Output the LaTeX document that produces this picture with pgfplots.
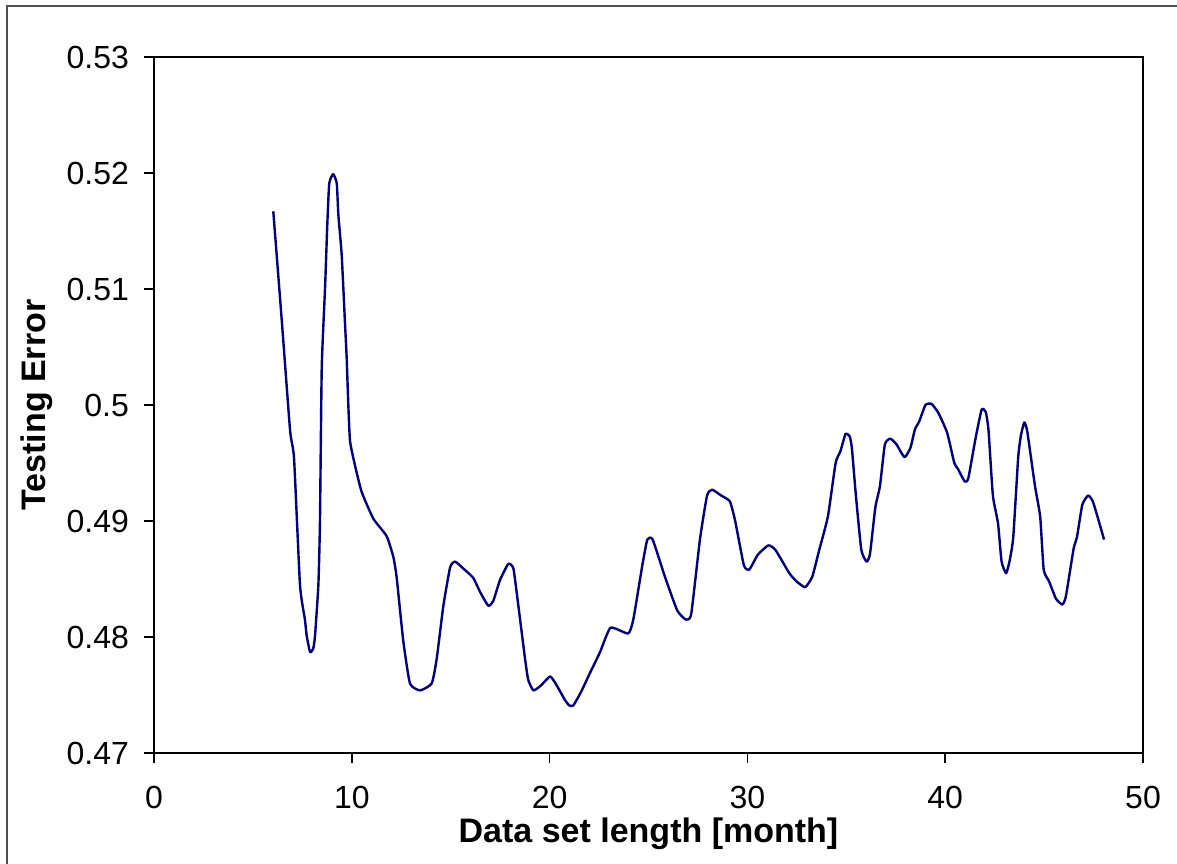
\documentclass[border=0pt]{standalone}
\usepackage{fontspec}
\setmainfont{Liberation Sans}
\usepackage{pgfplots}
\pgfplotsset{compat=1.18}
\definecolor{linenavy}{RGB}{0,0,128}
\definecolor{framegray}{RGB}{80,80,80}

\begin{document}
\begin{tikzpicture}
  % page = 1177x863 px at 0.5pt per px
  \path[use as bounding box] (0pt,0pt) rectangle (588.5pt,-431.5pt);
  \draw[framegray, line width=1pt] (3.5pt,-440pt) -- (3.5pt,-3pt) -- (600pt,-3pt);
  \begin{axis}[
    at={(77pt,-376.5pt)}, anchor=south west,
    scale only axis,
    width=494.5pt, height=348pt,
    xmin=0, xmax=50, ymin=0.47, ymax=0.53,
    xtick={0,10,...,50},
    ytick={0.47,0.48,0.49,0.50,0.51,0.52,0.53},
    yticklabels={0.47,0.48,0.49,0.5,0.51,0.52,0.53},
    xtick pos=left, ytick pos=left,
    tick align=outside,
    major tick length=5pt,
    axis line style={line width=0.8pt},
    tick style={line width=0.8pt, black},
    /pgf/number format/assume math mode=true,
    tick label style={font=\fontsize{16}{19}\selectfont},
    xticklabel style={yshift=-8pt},
    yticklabel style={xshift=-4pt},
    xlabel={\textbf{Data set length [month]}},
    ylabel={\textbf{Testing Error}},
    label style={font=\fontsize{17}{20}\selectfont},
    xlabel style={at={(axis description cs:0.5,0)}, anchor=base, yshift=-44.5pt},
    ylabel style={at={(axis description cs:0,0.5)}, anchor=center, yshift=58.5pt},
  ]
    \addplot[linenavy, line width=1.2pt, line join=round, mark=none, smooth, tension=0.3] coordinates {
      (6.03,0.5167) (6.45,0.5075) (6.88,0.4978) (7.08,0.4954) (7.38,0.4845)
      (7.63,0.4815) (7.72,0.4801) (7.89,0.4787) (8.05,0.4790) (8.14,0.4801)
      (8.31,0.4845) (8.39,0.4899) (8.48,0.5032) (8.65,0.5102) (8.76,0.5155)
      (8.86,0.5191) (9.06,0.5199) (9.24,0.5191) (9.32,0.5164) (9.49,0.5129)
      (9.66,0.5069) (9.74,0.5041) (9.82,0.5002) (9.91,0.4969) (10.16,0.4948)
      (10.50,0.4925) (11.09,0.4902) (11.76,0.4887) (12.10,0.4869) (12.27,0.4851)
      (12.60,0.4797) (12.94,0.4760) (13.45,0.4754) (14.04,0.4760) (14.29,0.4781)
      (14.63,0.4827) (14.97,0.4860) (15.22,0.4865) (15.64,0.4859) (16.14,0.4851)
      (16.48,0.4839) (16.90,0.4827) (17.15,0.4831) (17.49,0.4849) (17.91,0.4863)
      (18.17,0.4859) (18.42,0.4827) (18.76,0.4781) (18.92,0.4763) (19.18,0.4754)
      (19.55,0.4758) (20.02,0.4766) (20.30,0.4760) (20.80,0.4745) (21.00,0.4741)
      (21.20,0.4741) (21.60,0.4753) (22.04,0.4769) (22.55,0.4787) (23.08,0.4808)
      (23.97,0.4803) (24.23,0.4815) (24.68,0.4861) (24.94,0.4884) (25.21,0.4884)
      (25.83,0.4852) (26.45,0.4823) (26.89,0.4815) (27.16,0.4820) (27.60,0.4884)
      (27.96,0.4922) (28.22,0.4927) (28.67,0.4922) (29.11,0.4917) (29.37,0.4901)
      (29.82,0.4862) (30.09,0.4858) (30.53,0.4871) (31.06,0.4879) (31.42,0.4875)
      (32.12,0.4855) (32.48,0.4848) (32.92,0.4843) (33.28,0.4852) (33.63,0.4875)
      (34.07,0.4904) (34.46,0.4950) (34.70,0.4960) (34.96,0.4975) (35.17,0.4973)
      (35.28,0.4963) (35.49,0.4921) (35.76,0.4875) (36.03,0.4865) (36.20,0.4872)
      (36.47,0.4912) (36.70,0.4930) (36.95,0.4966) (37.23,0.4971) (37.54,0.4966)
      (37.94,0.4955) (38.24,0.4963) (38.47,0.4979) (38.69,0.4986) (39.00,0.5000)
      (39.31,0.5001) (39.66,0.4993) (40.10,0.4976) (40.46,0.4950) (40.64,0.4945)
      (40.99,0.4934) (41.17,0.4937) (41.52,0.4970) (41.84,0.4996) (42.05,0.4994)
      (42.19,0.4978) (42.41,0.4922) (42.67,0.4898) (42.85,0.4865) (43.08,0.4855)
      (43.26,0.4866) (43.44,0.4886) (43.69,0.4955) (43.83,0.4974) (44.00,0.4985)
      (44.15,0.4977) (44.54,0.4930) (44.80,0.4904) (44.98,0.4858) (45.25,0.4848)
      (45.60,0.4833) (45.92,0.4828) (46.10,0.4835) (46.49,0.4876) (46.66,0.4886)
      (46.93,0.4914) (47.23,0.4922) (47.46,0.4917) (47.73,0.4902) (48.03,0.4884)
    };
  \end{axis}
\end{tikzpicture}
\end{document}
